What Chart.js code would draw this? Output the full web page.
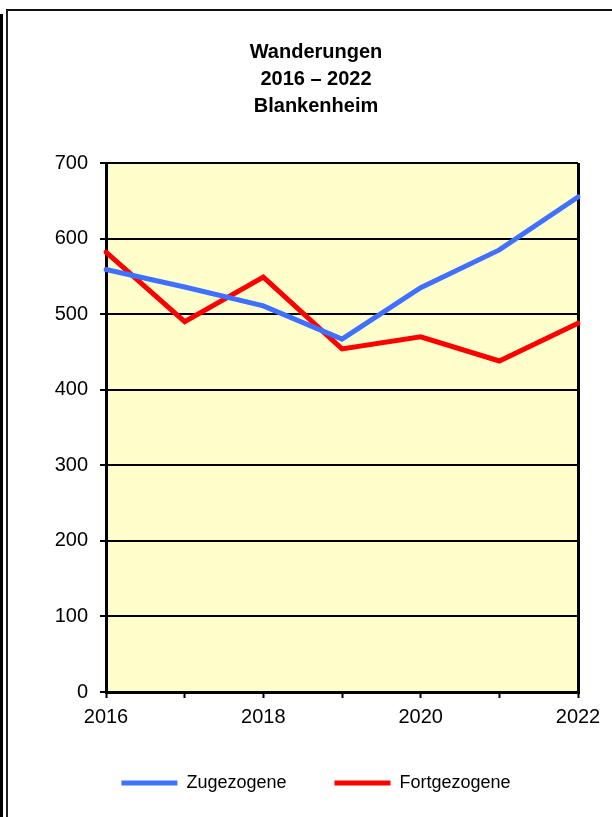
<!DOCTYPE html>
<html>
<head>
<meta charset="utf-8">
<script src="https://cdn.jsdelivr.net/npm/chart.js@4"></script>
<style>
  html, body { margin: 0; padding: 0; background: #fff; }
  #wrap { position: relative; width: 612px; height: 817px; overflow: hidden; }
  canvas { position: absolute; left: 0; top: 0; }
  .f { position: absolute; background: #000; }
</style>
</head>
<body>
<div id="wrap">
  <canvas id="c" width="612" height="817"></canvas>
  <div class="f" style="left:0;top:14px;width:3px;height:803px;"></div>
  <div class="f" style="left:6px;top:9px;width:2px;height:808px;background:#222;"></div>
  <div class="f" style="left:6px;top:9px;width:606px;height:2px;background:#111;"></div>
</div>
<script>
const years = ['2016', '2017', '2018', '2019', '2020', '2021', '2022'];
const xTickLabels = ['2016', '', '2018', '', '2020', '', '2022'];
const zugezogene = [559, 536, 511, 467, 535, 585, 655];
const fortgezogene = [582, 490, 549, 454, 470, 438, 488];
const seriesNames = ['Zugezogene', 'Fortgezogene'];
const titleLines = ['Wanderungen', '2016 \u2013 2022', 'Blankenheim'];
const yMin = 0, yMax = 700, yStep = 100;

const FONT = "'Liberation Sans', Arial, sans-serif";

const plotBg = {
  id: 'plotBg',
  beforeDraw(chart) {
    const { ctx, chartArea: a } = chart;
    ctx.save();
    ctx.fillStyle = '#FFFFCC';
    ctx.fillRect(a.left, a.top, a.right - a.left, a.bottom - a.top);
    ctx.restore();
  }
};

new Chart(document.getElementById('c'), {
  type: 'line',
  data: {
    labels: years,
    datasets: [
      {
        label: seriesNames[0],
        data: zugezogene,
        borderColor: '#4070FF',
        backgroundColor: '#4070FF',
        borderWidth: 5,
        pointRadius: 0,
        tension: 0,
        borderCapStyle: 'round',
        borderJoinStyle: 'miter'
      },
      {
        label: seriesNames[1],
        data: fortgezogene,
        borderColor: '#FF0000',
        backgroundColor: '#FF0000',
        borderWidth: 5,
        pointRadius: 0,
        tension: 0,
        borderCapStyle: 'round',
        borderJoinStyle: 'miter'
      }
    ]
  },
  options: {
    responsive: false,
    animation: false,
    layout: { padding: { left: 54, right: 34, top: 0, bottom: 15 } },
    plugins: {
      title: {
        display: true,
        text: titleLines,
        color: '#000',
        font: { family: FONT, size: 20, weight: 'bold', lineHeight: '27px' },
        padding: { top: 38.5, bottom: 43.5 }
      },
      legend: {
        display: true,
        position: 'bottom',
        labels: {
          color: '#000',
          font: { family: FONT, size: 18 },
          usePointStyle: true,
          pointStyle: 'line',
          pointStyleWidth: 56,
          padding: 48
        }
      },
      tooltip: { enabled: false }
    },
    scales: {
      x: {
        type: 'category',
        offset: false,
        grid: {
          display: true,
          drawOnChartArea: true,
          color: (c) => (c.index === years.length - 1 ? '#000' : 'rgba(0,0,0,0)'),
          lineWidth: 3,
          tickColor: '#000',
          tickWidth: 2,
          tickLength: 6
        },
        border: { display: true, color: '#000', width: 3 },
        ticks: {
          autoSkip: false,
          maxRotation: 0,
          minRotation: 0,
          color: '#000',
          padding: 7,
          font: { family: FONT, size: 20 },
          callback: (v, i) => xTickLabels[i]
        },
        afterFit(scale) {
          scale.paddingLeft = 0;
          scale.paddingRight = 0;
          scale.height = 34;
        }
      },
      y: {
        min: yMin,
        max: yMax,
        grid: {
          color: '#000',
          lineWidth: 2,
          tickColor: '#000',
          tickWidth: 2,
          tickLength: 6
        },
        border: { display: true, color: '#000', width: 3 },
        ticks: {
          stepSize: yStep,
          color: '#000',
          padding: 12,
          font: { family: FONT, size: 20 }
        },
        afterFit(scale) {
          scale.paddingTop = 0;
          scale.paddingBottom = 0;
          scale.width = 52;
        }
      }
    }
  },
  plugins: [plotBg]
});
</script>
</body>
</html>
